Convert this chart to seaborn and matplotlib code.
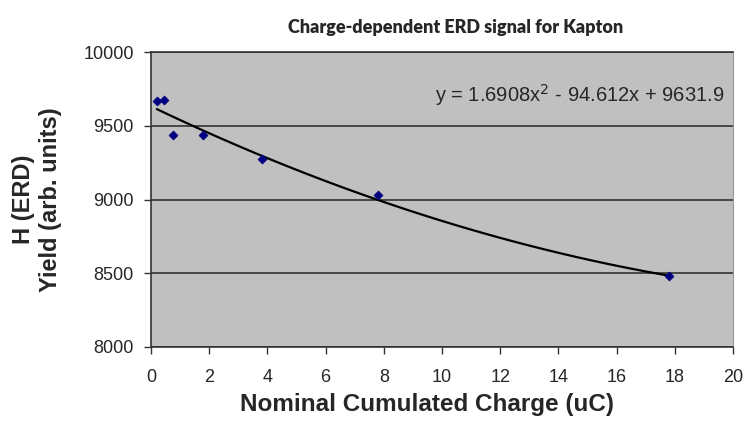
import numpy as np
import matplotlib
matplotlib.use("Agg")
import matplotlib.pyplot as plt
import seaborn as sns
import pandas as pd

# charge (uC) and H yield
charge = [0.2, 0.45, 0.75, 1.8, 3.8, 7.8, 17.8]
yield_h = [9668, 9675, 9440, 9440, 9275, 9030, 8480]
# trendline coefficients as printed on the chart
coef = [1.6908, -94.612, 9631.9]
eq_text = "y = 1.6908x$^2$ - 94.612x + 9631.9"

df = pd.DataFrame({"charge": charge, "yield": yield_h})
xs = np.linspace(min(charge), max(charge), 100)
fit = pd.DataFrame({"charge": xs, "yield": np.polyval(coef, xs)})

sns.set_style("white")
plt.rcParams["font.family"] = ["Liberation Sans", "DejaVu Sans"]

fig = plt.figure(figsize=(7.45, 4.23), dpi=100)
ax = fig.add_axes([0.2027, 0.1797, 0.7812, 0.6973])
ax.set_facecolor("#c0c0c0")

sns.lineplot(data=fit, x="charge", y="yield", ax=ax, color="black", lw=1.6)
sns.scatterplot(data=df, x="charge", y="yield", ax=ax, marker="D", s=22,
                color="#000080", edgecolor="#000080", zorder=5)

ax.set_xlim(0, 20)
ax.set_ylim(8000, 10000)
ax.set_xticks(range(0, 21, 2))
ax.set_yticks(range(8000, 10001, 500))
ax.yaxis.grid(True, color="#333333", lw=1.2)
ax.set_axisbelow(True)
ax.tick_params(axis="both", direction="out", length=5, width=1, color="#333333",
               labelsize=13, bottom=True, left=True)
ax.tick_params(axis="x", pad=11)
ax.tick_params(axis="y", pad=7.5)
for side in ["left", "bottom", "top"]:
    ax.spines[side].set_color("#333333")
    ax.spines[side].set_linewidth(1.2)
ax.spines["right"].set_color("#999999")

ax.set_xlabel("")
ax.set_ylabel("")
fig.text(0.573, 0.043, "Nominal Cumulated Charge (uC)", fontsize=17.5,
         fontweight="bold", ha="center", va="center")
fig.text(0.05, 0.528, "H (ERD)\nYield (arb. units)", fontsize=17, fontweight="bold",
         rotation=90, ha="center", va="center", linespacing=1.25)
fig.text(0.611, 0.936, "Charge-dependent ERD signal for Kapton", fontsize=13,
         fontweight="heavy", family=["Lato", "DejaVu Sans"], ha="center", va="center")
ax.text(0.985, 0.855, eq_text, transform=ax.transAxes, ha="right", va="center",
        fontsize=14.5)

fig.savefig("out.png", dpi=100)
